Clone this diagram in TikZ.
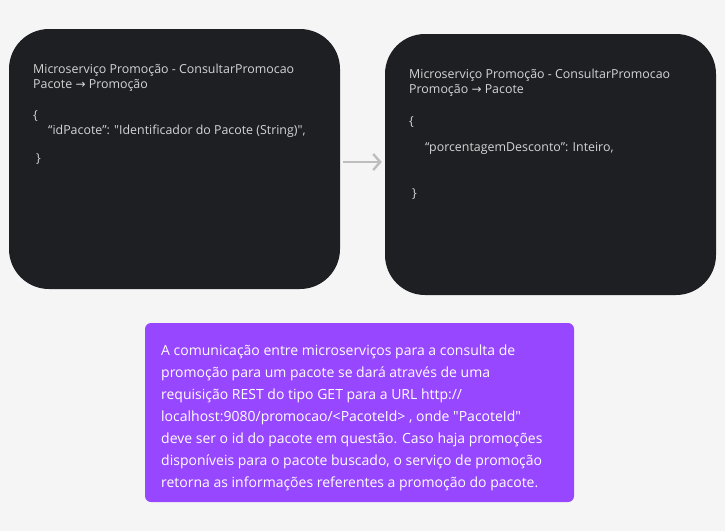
\documentclass[tikz,border=0pt]{standalone}
\usepackage{fontspec}
\setmainfont{Open Sans}
\newfontfamily\arrfont{DejaVu Sans}
\usetikzlibrary{arrows.meta}
\definecolor{bgc}{HTML}{F5F5F5}
\definecolor{darkc}{HTML}{1E1F22}
\definecolor{lightt}{HTML}{D4D4D6}
\definecolor{purp}{HTML}{9747FF}
\definecolor{arrc}{HTML}{BDBDBD}
\newcommand{\rarr}{{\arrfont\fontsize{12}{15}\selectfont →}}
\tikzset{
  darkbox/.style={fill=darkc, rounded corners=40pt, draw=none},
  codetext/.style={text=lightt, font=\fontsize{12.4}{15}\selectfont, inner sep=0pt, anchor=base west},
  notebox/.style={fill=purp, rounded corners=6pt, draw=none},
  notetext/.style={text=white, font=\fontsize{14}{22}\selectfont, inner sep=0pt, anchor=base west},
  flow/.style={draw=arrc, line width=2.4pt, -{Straight Barb[length=7pt,width=16pt,line width=2.4pt]}, shorten <=3pt, shorten >=3pt}
}
\begin{document}
\begin{tikzpicture}[x=1pt,y=-1pt]
\fill[bgc] (0,0) rectangle (725,531);
\useasboundingbox (0,0) rectangle (725,531);
\fill[darkbox] (9,29) rectangle (340,289);
\node[inner sep=0pt, minimum width=331pt, minimum height=260pt] (left) at (174.5,159) {};
\fill[darkbox] (385,34) rectangle (716,295);
\node[inner sep=0pt, minimum width=331pt, minimum height=261pt] (right) at (550.5,164.5) {};
\fill[notebox] (145,323) rectangle (574,502);
\node[inner sep=0pt, minimum width=429pt, minimum height=179pt] (note) at (359.5,412.5) {};

\node[codetext] (l1) at (33,73) {Microserviço Promoção - ConsultarPromocao};
\node[codetext] (l2) at (33,88) {Pacote \rarr{} Promoção};
\node[codetext] (l3) at (33,119) {\{};
\node[codetext] (l4) at (48,134) {“idPacote”: \textquotedbl Identificador do Pacote (String)\textquotedbl,};
\node[codetext] (l5) at (36,162) {\}};

\node[codetext] (r1) at (409,78) {Microserviço Promoção - ConsultarPromocao};
\node[codetext] (r2) at (409,93) {Promoção \rarr{} Pacote};
\node[codetext] (r3) at (409,125) {\{};
\node[codetext] (r4) at (425,151) {“porcentagemDesconto”: Inteiro,};
\node[codetext] (r5) at (412,197) {\}};

\node[notetext] (n1) at (161,355) {A comunicação entre microserviços para a consulta de};
\node[notetext] (n2) at (161,377) {promoção para um pacote se dará através de uma};
\node[notetext] (n3) at (161,399) {requisição REST do tipo GET para a URL http://};
\node[notetext] (n4) at (161,421) {localhost:9080/promocao/<PacoteId> , onde \textquotedbl PacoteId\textquotedbl};
\node[notetext] (n5) at (161,443) {deve ser o id do pacote em questão. Caso haja promoções};
\node[notetext] (n6) at (161,465) {disponíveis para o pacote buscado, o serviço de promoção};
\node[notetext] (n7) at (161,487) {retorna as informações referentes a promoção do pacote.};

\coordinate (ay) at (0,162);
\draw[flow] (left.east |- ay) -- (right.west |- ay);
\end{tikzpicture}
\end{document}
